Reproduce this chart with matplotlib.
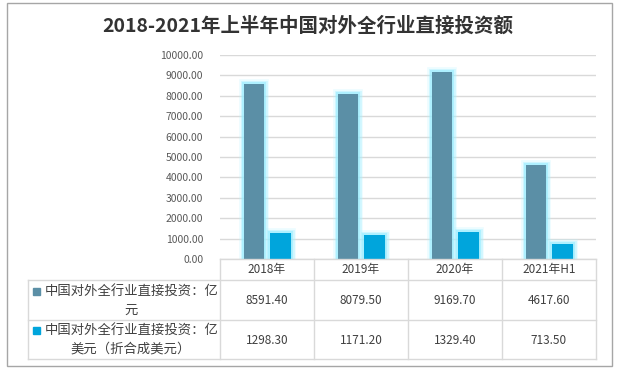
import numpy as np
import matplotlib
matplotlib.use("Agg")
import matplotlib.pyplot as plt
import matplotlib.patheffects as pe
from matplotlib.transforms import blended_transform_factory
from matplotlib.lines import Line2D
from matplotlib.patches import Rectangle

plt.rcParams['font.family'] = ['Noto Sans CJK SC', 'DejaVu Sans']

# ---------------- data
categories = ['2018年', '2019年', '2020年', '2021年H1']
rmb_values = [8591.40, 8079.50, 9169.70, 4617.60]
usd_values = [1298.30, 1171.20, 1329.40, 713.50]
series_names = [['中国对外全行业直接投资：亿', '元'],
                ['中国对外全行业直接投资：亿', '美元（折合成美元）']]
series_colors = ['#5b8fa6', '#00a5dc']
title = '2018-2021年上半年中国对外全行业直接投资额'

W, H = 619, 372
fig = plt.figure(figsize=(W / 100, H / 100), dpi=100)


def fx(x):
    return x / W


def fy(y):
    return 1 - y / H


# outer frame
fig.add_artist(Rectangle((fx(7), fy(366)), fx(605), (366 - 3) / H,
                         transform=fig.transFigure, fill=False,
                         edgecolor='#a6a6a6', linewidth=1.0))

fig.text(fx(308), fy(26), title, ha='center', va='center',
         fontsize=14, fontweight='bold', color='#333333')

# ---------------- bars
ax = fig.add_axes([fx(220), fy(259), fx(596) - fx(220), (259 - 55) / H])
x = np.arange(len(categories))
w = 0.22
glow = [pe.Stroke(linewidth=7, foreground='#b5f5ff', alpha=0.25),
        pe.Stroke(linewidth=5, foreground='#a5f0ff', alpha=0.35),
        pe.Stroke(linewidth=3, foreground='#96ecff', alpha=0.6),
        pe.Normal()]
for vals, off, col in [(rmb_values, -0.138, series_colors[0]),
                       (usd_values, 0.142, series_colors[1])]:
    bars = ax.bar(x + off, vals, width=w, color=col, zorder=3)
    for b in bars:
        b.set_path_effects(glow)

ax.set_xlim(-0.5, len(categories) - 0.5)
ax.set_ylim(0, 10000)
ax.set_yticks(np.arange(0, 10001, 1000))
ax.set_yticklabels([f'{v:.2f}' for v in np.arange(0, 10001, 1000)],
                   fontsize=7.5, color='#595959')
ax.tick_params(axis='y', length=0, pad=12)
ax.set_xticks([])
ax.grid(axis='y', color='#d9d9d9', linewidth=1, zorder=0)
for s in ax.spines.values():
    s.set_visible(False)

# ---------------- data table
tr = blended_transform_factory(ax.transData, fig.transFigure)
line_col = '#d9d9d9'
row_y = [259, 280, 320, 359]
# horizontal lines
fig.add_artist(Line2D([fx(220), fx(596)], [fy(259), fy(259)],
                      transform=fig.transFigure, color=line_col, lw=1))
for yy in row_y[1:]:
    fig.add_artist(Line2D([fx(28), fx(596)], [fy(yy), fy(yy)],
                          transform=fig.transFigure, color=line_col, lw=1))
# vertical lines
fig.add_artist(Line2D([fx(28), fx(28)], [fy(280), fy(359)],
                      transform=fig.transFigure, color=line_col, lw=1))
for b in np.arange(len(categories) + 1) - 0.5:
    fig.add_artist(Line2D([b, b], [fy(259), fy(359)], transform=tr,
                          color=line_col, lw=1))

for i, c in enumerate(categories):
    fig.text(i, fy(270), c, transform=tr, ha='center', va='center',
             fontsize=8.5, color='#404040')
    fig.text(i, fy(300.5), f'{rmb_values[i]:.2f}', transform=tr,
             ha='center', va='center', fontsize=8.5, color='#404040')
    fig.text(i, fy(340), f'{usd_values[i]:.2f}', transform=tr,
             ha='center', va='center', fontsize=8.5, color='#404040')

for (l1, l2), col, yc in zip(series_names, series_colors, [291, 330]):
    fig.add_artist(Rectangle((fx(33), fy(yc + 3.5)), fx(7), 7 / H,
                             transform=fig.transFigure, color=col))
    fig.text(fx(45), fy(yc), l1, ha='left', va='center',
             fontsize=9.6, color='#404040')
    fig.text(fx(131), fy(yc + 18.5), l2, ha='center', va='center',
             fontsize=9.6, color='#404040')

fig.savefig('out.png', dpi=100)
